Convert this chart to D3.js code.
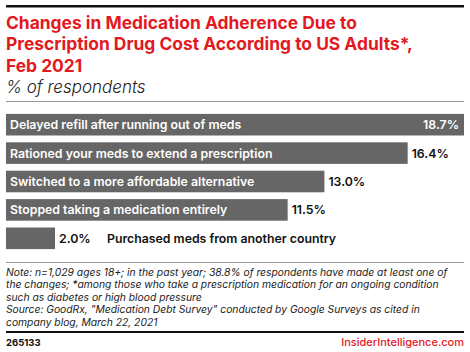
<!DOCTYPE html>
<html>
<head>
<meta charset="utf-8">
<script src="https://cdn.jsdelivr.net/npm/d3@7"></script>
<style>
  html, body { margin: 0; padding: 0; background: #fff; }
  #chart { width: 470px; height: 352px; }
  text { font-family: Inter, "Liberation Sans", sans-serif; }
</style>
</head>
<body>
<div id="chart"></div>
<script>
'use strict';

const categories = [
  'Delayed refill after running out of meds',
  'Rationed your meds to extend a prescription',
  'Switched to a more affordable alternative',
  'Stopped taking a medication entirely',
  'Purchased meds from another country'
];
const values = [18.7, 16.4, 13.0, 11.5, 2.0];

const titleLines = [
  'Changes in Medication Adherence Due to',
  'Prescription Drug Cost According to US Adults*,',
  'Feb 2021'
];
const subtitle = '% of respondents';
const noteLines = [
  'Note: n=1,029 ages 18+; in the past year; 38.8% of respondents have made at least one of',
  'the changes; *among those who take a prescription medication for an ongoing condition',
  'such as diabetes or high blood pressure',
  'Source: GoodRx, "Medication Debt Survey" conducted by Google Surveys as cited in',
  'company blog, March 22, 2021'
];

const W = 470, H = 352;
const RED = '#e2191f';
const BAR = '#666666';

const svg = d3.select('#chart').append('svg')
  .attr('width', W).attr('height', H);

// top rule
svg.append('rect').attr('x', 6).attr('y', 5).attr('width', 458).attr('height', 2.5).attr('fill', '#111');

// title
svg.append('g').selectAll('text').data(titleLines).join('text')
  .attr('x', 6)
  .attr('y', (d, i) => 28.5 + i * 21.5)
  .attr('fill', RED)
  .attr('font-size', '17.4px')
  .attr('font-weight', 700)
  .text(d => d);

svg.append('text')
  .attr('x', 6).attr('y', 93)
  .attr('font-size', '17px')
  .attr('font-style', 'italic')
  .attr('font-weight', 300)
  .attr('fill', '#222')
  .text(subtitle);

svg.append('rect').attr('x', 6).attr('y', 101).attr('width', 458).attr('height', 1).attr('fill', '#999');

// bars
const x = d3.scaleLinear().domain([0, 18.7]).range([6, 464]);
const y = d3.scaleBand().domain(categories).range([110.5, 252.5]).paddingInner(0.24).paddingOuter(0.12);

const g = svg.append('g');

g.selectAll('rect.bar').data(values).join('rect')
  .attr('class', 'bar')
  .attr('x', x(0))
  .attr('y', (d, i) => y(categories[i]))
  .attr('width', d => x(d) - x(0))
  .attr('height', y.bandwidth())
  .attr('fill', BAR);

const fmt = d => d.toFixed(1) + '%';
const mid = i => y(categories[i]) + y.bandwidth() / 2;

values.forEach((v, i) => {
  const small = v < 4;
  const inside = v === d3.max(values);
  // value label
  g.append('text')
    .attr('x', inside ? x(v) - 5 : x(v) + 4)
    .attr('y', mid(i))
    .attr('dy', '0.36em')
    .attr('text-anchor', inside ? 'end' : 'start')
    .attr('fill', inside ? '#fff' : '#111')
    .attr('font-size', '12.3px')
    .attr('font-weight', 600)
    .text(fmt(v));
  // category label
  g.append('text')
    .attr('x', small ? x(v) + 52 : x(0) + 4)
    .attr('y', mid(i))
    .attr('dy', '0.36em')
    .attr('fill', small ? '#111' : '#fff')
    .attr('font-size', '12.3px')
    .attr('font-weight', 600)
    .text(categories[i]);
});

// notes
svg.append('rect').attr('x', 6).attr('y', 262).attr('width', 458).attr('height', 1).attr('fill', '#999');

svg.append('g').selectAll('text').data(noteLines).join('text')
  .attr('x', 6)
  .attr('y', (d, i) => 275.5 + i * 12.5)
  .attr('font-size', '10.3px')
  .attr('font-style', 'italic')
  .attr('fill', '#222')
  .text(d => d);

svg.append('rect').attr('x', 6).attr('y', 331).attr('width', 458).attr('height', 2).attr('fill', '#111');

svg.append('text')
  .attr('x', 6).attr('y', 346)
  .attr('font-size', '9.5px').attr('font-weight', 700).attr('fill', '#111')
  .text('265133');

svg.append('text')
  .attr('x', 464).attr('y', 346)
  .attr('text-anchor', 'end')
  .attr('font-size', '11px').attr('font-weight', 500).attr('fill', RED)
  .text('InsiderIntelligence.com');
</script>
</body>
</html>
